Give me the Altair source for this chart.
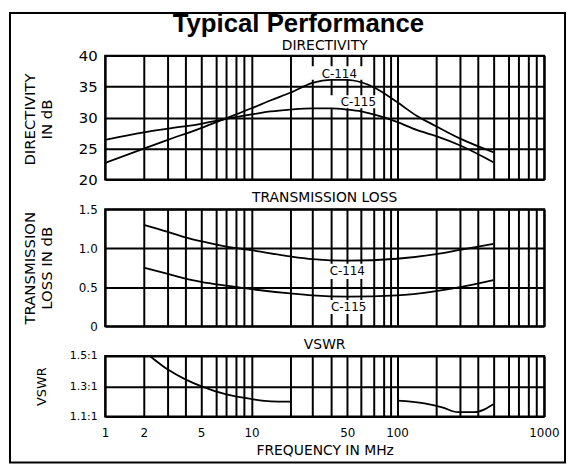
import altair as alt
import pandas as pd

# ---------------- data ----------------
# frequency grid lines (MHz) and the labelled ones
freq_grid = [1, 2, 3, 4, 5, 6, 7, 8, 9, 10, 20, 30, 40, 50, 60, 70, 80, 90, 100,
             200, 300, 400, 500, 600, 700, 800, 900, 1000]
freq_labels = [1, 2, 5, 10, 50, 100, 1000]
# the original sheet uses a hand-ruled log grid; scale range follows its rulings
freq_grid_px = [0, 39, 63.3, 81, 96.7, 111.7, 122.3, 131.7, 140, 147.7,
                 186.7, 209.3, 228.3, 244.3, 258.3, 271, 281, 288.3, 294.5,
                 334, 358.3, 376, 391.7, 406.7, 417.3, 426.7, 435, 442.7]

# Directivity (dB)
dir_freq = [1, 2, 3, 5, 7, 10, 15, 20, 30, 40, 50, 60, 70, 100, 150, 200, 300, 500]
dir_c114 = [22.7, 25.0, 26.4, 28.3, 29.9, 31.5, 32.8, 34.0, 35.6, 36.1, 36.1, 35.7, 34.9,
            32.5, 30.3, 28.6, 26.6, 24.4]
dir_c115 = [26.4, 27.6, 28.2, 29.0, 29.8, 30.5, 31.0, 31.3, 31.5, 31.5, 31.3, 31.0, 30.5,
            29.3, 28.0, 27.0, 25.5, 22.8]

# Transmission loss (dB)
tl_freq = [2, 3, 4, 5, 7, 10, 20, 30, 50, 100, 200, 300, 500]
tl_c114 = [1.30, 1.21, 1.14, 1.09, 1.02, 0.975, 0.895, 0.86, 0.84, 0.865, 0.925, 0.98, 1.055]
tl_c115 = [0.75, 0.67, 0.61, 0.57, 0.52, 0.475, 0.42, 0.395, 0.38, 0.395, 0.45, 0.50, 0.59]

# VSWR (x:1)
vswr_freq_low = [2.25, 3, 4, 5, 7, 10, 15, 20]
vswr_low = [1.5, 1.41, 1.345, 1.30, 1.245, 1.215, 1.20, 1.198]
vswr_freq_high = [100, 170, 225, 290, 380, 440, 500]
vswr_high = [1.204, 1.186, 1.16, 1.128, 1.128, 1.145, 1.18]

# curve labels
label_text = ["C-114", "C-115"]
dir_label_f = [45, 58]
dir_label_v = [37.1, 32.5]
dir_box_f1 = [29, 38.5]
dir_box_f2 = [63, 77]
dir_box_v1 = [36.1, 31.5]
dir_box_v2 = [38.3, 33.6]
tl_label_f = [50, 51]
tl_label_v = [0.711, 0.245]
tl_box_f1 = [36.6, 36.6]
tl_box_f2 = [66, 66]
tl_box_v1 = [0.607, 0.155]
tl_box_v2 = [0.80, 0.336]

# ---------------- chart ----------------
W = 443
FONT = "DejaVu Sans"
LINE_W = 1.8

x_scale = alt.Scale(type="linear", domain=freq_grid, range=freq_grid_px, nice=False, zero=False)


def x_axis(show):
    if show:
        return alt.Axis(values=freq_grid, grid=True, ticks=False, domain=False,
                        labelExpr=f"indexof({freq_labels}, datum.value) >= 0 ? datum.label : ''",
                        format="d", labelFlush=False, labelOverlap=False, labelPadding=11,
                        labelFontSize=12, labelFont=FONT,
                        title="FREQUENCY IN MHz", titleX=W / 2, titleY=34,
                        titleAlign="center", titleBaseline="middle",
                        titleFontSize=14, titleFont=FONT, titleFontWeight="normal")
    return alt.Axis(values=freq_grid, grid=True, ticks=False, domain=False,
                    labels=False, title=None)


def y_axis(values, title, tx, ty, label_size, title_size, expr=None, fmt=None):
    kw = dict(values=values, grid=True, ticks=False, domain=False, labelFlush=False,
              labelOverlap=False, labelPadding=8, labelFontSize=label_size, labelFont=FONT,
              title=title, titleAngle=270, titleX=tx, titleY=ty, titleAlign="center",
              titleBaseline="middle", titleFontSize=title_size, titleFont=FONT,
              titleFontWeight="normal", titleLineHeight=16.5)
    if expr:
        kw["labelExpr"] = expr
    if fmt:
        kw["format"] = fmt
    return alt.Axis(**kw)


def panel(lines_df, ydomain, yaxis, height, heading, heading_dy, show_x,
          boxes_df=None, labels_df=None, extra=None):
    ysc = alt.Scale(domain=ydomain, nice=False, zero=False)
    X = lambda f: alt.X(f, type="quantitative", scale=x_scale, axis=x_axis(show_x))
    Y = lambda f: alt.Y(f, type="quantitative", scale=ysc, axis=yaxis)
    layers = []
    if boxes_df is not None:
        layers.append(
            alt.Chart(boxes_df).mark_rect(color="white").encode(
                x=X("f1"), x2="f2", y=Y("v1"), y2="v2"))
    layers.append(
        alt.Chart(lines_df).mark_line(color="black", strokeWidth=LINE_W,
                                      interpolate="monotone", clip=True).encode(
            x=X("f"), y=Y("v"), detail="series:N"))
    if labels_df is not None:
        layers.append(
            alt.Chart(labels_df).mark_text(font=FONT, fontSize=12, color="black",
                                           align="center", baseline="middle").encode(
                x=X("f"), y=Y("v"), text="t:N"))
    layers.append(
        alt.Chart(pd.DataFrame({"t": [heading]})).mark_text(
            font=FONT, fontSize=14, color="black", align="center", baseline="middle").encode(
            text="t:N", x=alt.value(W / 2), y=alt.value(heading_dy)))
    if extra:
        layers += extra
    return alt.layer(*layers).properties(width=W, height=height)


# Directivity panel
dir_df = pd.DataFrame({"f": dir_freq * 2, "v": dir_c114 + dir_c115,
                       "series": ["C-114"] * len(dir_freq) + ["C-115"] * len(dir_freq)})
dir_boxes = pd.DataFrame({"f1": dir_box_f1, "f2": dir_box_f2, "v1": dir_box_v1, "v2": dir_box_v2})
dir_labels = pd.DataFrame({"f": dir_label_f, "v": dir_label_v, "t": label_text})

title_layer = alt.Chart(pd.DataFrame({"t": ["Typical Performance"]})).mark_text(
    font="Liberation Sans", fontSize=26, fontWeight="bold", color="black",
    align="center", baseline="alphabetic").encode(
    text="t:N", x=alt.value(195), y=alt.value(-24))
frame_layer = alt.Chart(pd.DataFrame({"t": [0]})).mark_rect(
    fillOpacity=0, stroke="black", strokeWidth=2, clip=False).encode(
    x=alt.value(-96), x2=alt.value(464), y=alt.value(-43), y2=alt.value(410.5))

p1 = panel(dir_df, [20, 40],
           y_axis([20, 25, 30, 35, 40], ["DIRECTIVITY", "IN dB"], -76, 64, 15, 15, fmt="d"),
           125, "DIRECTIVITY", -9.5, False, dir_boxes, dir_labels,
           extra=[title_layer, frame_layer])

# Transmission loss panel
tl_df = pd.DataFrame({"f": tl_freq * 2, "v": tl_c114 + tl_c115,
                      "series": ["C-114"] * len(tl_freq) + ["C-115"] * len(tl_freq)})
tl_boxes = pd.DataFrame({"f1": tl_box_f1, "f2": tl_box_f2, "v1": tl_box_v1, "v2": tl_box_v2})
tl_labels = pd.DataFrame({"f": tl_label_f, "v": tl_label_v, "t": label_text})
p2 = panel(tl_df, [0, 1.5],
           y_axis([0, 0.5, 1.0, 1.5], ["TRANSMISSION", "LOSS IN dB"], -76, 59, 12, 15,
                  expr="datum.value == 0 ? '0' : format(datum.value, '.1f')"),
           118, "TRANSMISSION LOSS", -11, False, tl_boxes, tl_labels)

# VSWR panel
vswr_df = pd.DataFrame({"f": vswr_freq_low + vswr_freq_high, "v": vswr_low + vswr_high,
                        "series": ["low"] * len(vswr_freq_low) + ["high"] * len(vswr_freq_high)})
p3 = panel(vswr_df, [1.1, 1.5],
           y_axis([1.1, 1.3, 1.5], "VSWR", -64, 30.5, 11, 13,
                  expr="format(datum.value, '.1f') + ':1'"),
           61, "VSWR", -11, True)

chart = alt.vconcat(p1, p2, p3, spacing=30, bounds="flush").properties(
    padding=0, background="white"
).configure_view(
    stroke="black", strokeWidth=2
).configure_axis(
    gridColor="black", gridWidth=2, gridOpacity=1, labelColor="black", titleColor="black"
)

chart.save("out.html", embed_options={"renderer": "svg", "actions": False})
